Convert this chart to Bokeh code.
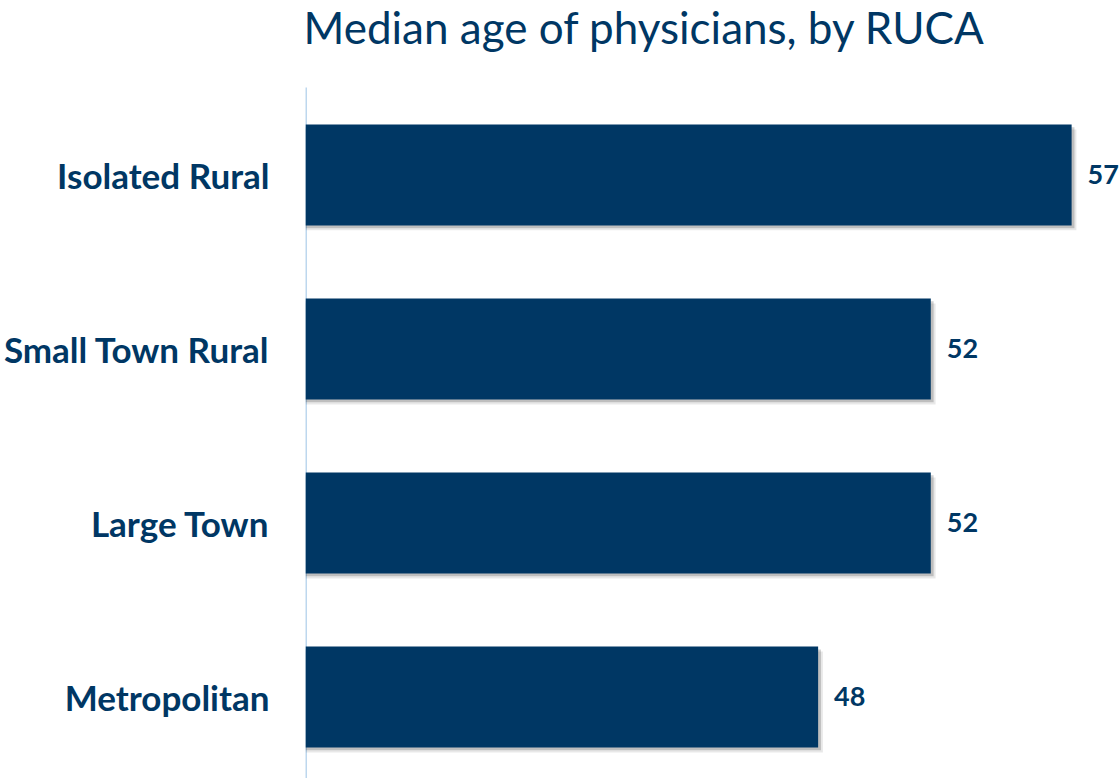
from bokeh.plotting import figure
from bokeh.models import Range1d, FixedTicker, ColumnDataSource
from bokeh.core.properties import value
from bokeh.embed import file_html
from bokeh.resources import INLINE

categories = ["Isolated Rural", "Small Town Rural", "Large Town", "Metropolitan"]
median_age = [57, 52, 52, 48]
value_labels = ["57", "52", "52", "48"]
title_text = "Median age of physicians, by RUCA"

NAVY = "#003764"
AXIS_BLUE = "#BDD7EE"
X_START = 29.8
X_END = 58.7
Y_BOTTOM = -0.468
Y_AXIS_TOP = 3.503     # where the category axis line begins
Y_TITLE = 3.850        # title baseline
Y_FRAME_TOP = 4.003

ypos = [len(categories) - 1 - i for i in range(len(categories))]
src = ColumnDataSource(dict(y=ypos, v=median_age, lab=value_labels,
                            left=[X_START] * len(categories)))

p = figure(width=1119, height=778, output_backend="svg", toolbar_location=None,
           x_range=Range1d(X_START, X_END),
           y_range=Range1d(Y_BOTTOM, Y_FRAME_TOP),
           min_border_left=304, min_border_right=0, min_border_bottom=0,
           min_border_top=0)

# title (inside the frame, above the bars)
p.text(x=[X_START], y=[Y_TITLE], text=[title_text], x_offset=-2,
       text_font=value("Lato"), text_font_size="44px", text_color=NAVY,
       text_align="left", text_baseline="alphabetic", text_line_height=0.9)

# category axis line
p.segment(x0=[X_START], y0=[Y_AXIS_TOP], x1=[X_START], y1=[Y_BOTTOM],
          line_color=AXIS_BLUE, line_width=3)

# soft drop shadow
for dx, dy, a in [(0.17, -0.028, 0.09), (0.10, -0.016, 0.18)]:
    s = ColumnDataSource(dict(y=[y + dy for y in ypos],
                              r=[v + dx for v in median_age],
                              left=[X_START] * len(categories)))
    p.hbar(y="y", left="left", right="r", height=0.58, source=s,
           fill_color="#000000", fill_alpha=a, line_color=None)

p.hbar(y="y", left="left", right="v", height=0.58, source=src,
       fill_color=NAVY, line_color=None)

p.text(x="v", y="y", text="lab", source=src, x_offset=16, y_offset=-1,
       text_align="left", text_baseline="middle",
       text_font=value("Lato"), text_font_style="bold",
       text_font_size="27px", text_color=NAVY)

p.xaxis.visible = False
p.xgrid.visible = False
p.ygrid.visible = False
p.outline_line_color = None

ax = p.yaxis[0]
ax.ticker = FixedTicker(ticks=ypos)
ax.major_label_overrides = {y: c for y, c in zip(ypos, categories)}
ax.major_tick_line_color = None
ax.minor_tick_line_color = None
ax.major_tick_out = 0
ax.major_tick_in = 0
ax.major_label_standoff = 36
ax.axis_line_color = None
ax.major_label_text_font = "Lato"
ax.major_label_text_font_style = "bold"
ax.major_label_text_font_size = "35px"
ax.major_label_text_color = NAVY

open("out.html", "w").write(file_html(p, INLINE))
